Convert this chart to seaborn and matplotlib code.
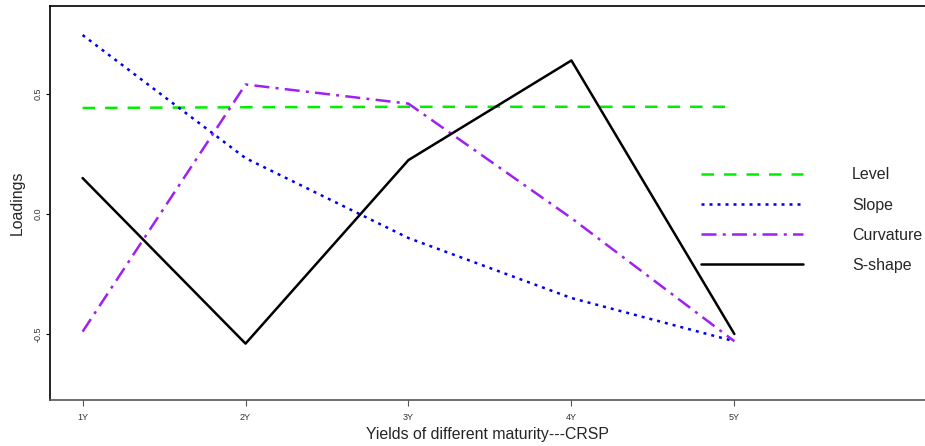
import pandas as pd
import seaborn as sns
import matplotlib
matplotlib.use("Agg")
import matplotlib.pyplot as plt

# данные
maturities = ["1Y", "2Y", "3Y", "4Y", "5Y"]
level = [0.442, 0.445, 0.447, 0.447, 0.447]
slope = [0.746, 0.233, -0.100, -0.350, -0.530]
curvature = [-0.490, 0.540, 0.460, -0.017, -0.530]
s_shape = [0.150, -0.540, 0.225, 0.640, -0.500]

series_names = ["Level", "Slope", "Curvature", "S-shape"]
colors = ["#00ee00", "#0000ee", "#a020f0", "black"]
styles = [(0, (5, 4)), (0, (1.2, 2)), (0, (6, 2.5, 1.2, 2.5)), "-"]

sns.set_style("white")
plt.rcParams["font.family"] = ["Liberation Sans", "DejaVu Sans"]

df = pd.DataFrame({"pos": range(1, len(maturities) + 1)})
for name, vals in zip(series_names, [level, slope, curvature, s_shape]):
    df[name] = vals

fig = plt.figure(figsize=(9.25, 4.46), dpi=100)
ax = fig.add_axes([50 / 925, 1 - 400 / 446, 1 - 50 / 925, 394 / 446])

for name, c, ls in zip(series_names, colors, styles):
    sns.lineplot(data=df, x="pos", y=name, color=c, linestyle=ls,
                 linewidth=1.8, ax=ax, label=name)

ax.set_xlim(0.8, 6.17)
ax.set_ylim(-0.775, 0.867)
ax.set_xticks(df["pos"])
ax.set_xticklabels(maturities, fontsize=6.5, color="#333333")
ax.set_yticks([-0.5, 0.0, 0.5])
ax.set_yticklabels(["-0.5", "0.0", "0.5"], fontsize=6.5, rotation=90,
                   va="center", color="#333333")
ax.tick_params(axis="x", length=4, width=0.8, color="#555555", pad=5, bottom=True)
ax.tick_params(axis="y", length=3, width=0.8, color="black", pad=2, left=True)
ax.set_xlabel("Yields of different maturity---CRSP", fontsize=11.4, labelpad=4)
ax.set_ylabel("Loadings", fontsize=11.4, labelpad=7)

for sp in ["left", "top"]:
    ax.spines[sp].set_color("black")
    ax.spines[sp].set_linewidth(1.2)
ax.spines["bottom"].set_color("#555555")
ax.spines["bottom"].set_linewidth(1.2)
ax.spines["right"].set_visible(False)

ax.legend(loc="upper left", bbox_to_anchor=(0.727, 0.627), frameon=False,
          fontsize=11.5, handlelength=6.4, handletextpad=3.1, labelspacing=0.95)

fig.savefig("out.png", dpi=100)
